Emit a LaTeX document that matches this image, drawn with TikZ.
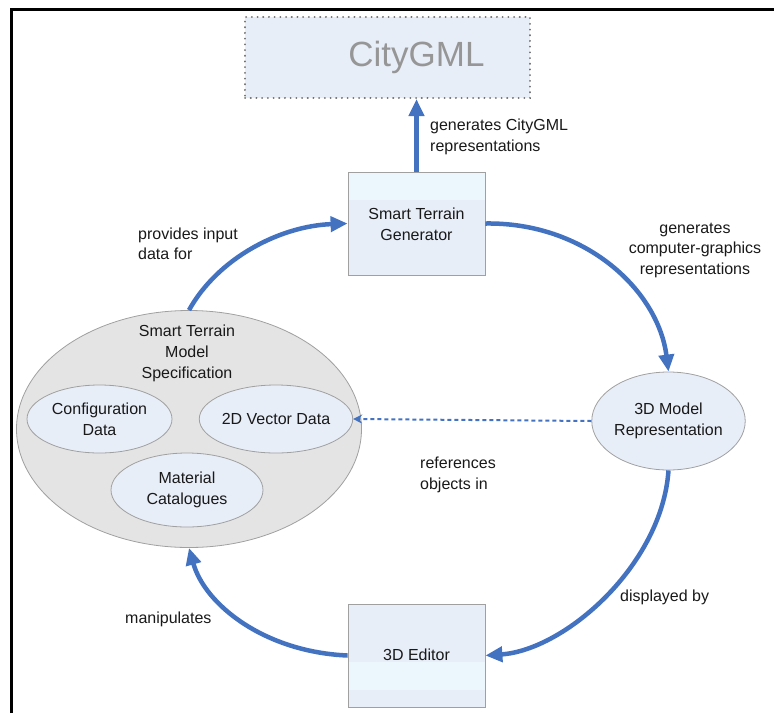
\documentclass[tikz,border=0pt]{standalone}
\usepackage{fontspec}
\setmainfont{Liberation Sans}
\usetikzlibrary{arrows.meta,shapes.geometric}
\definecolor{arrowblue}{RGB}{66,114,192}
\definecolor{boxfill}{RGB}{232,238,248}
\definecolor{bandfill}{RGB}{236,247,253}
\definecolor{bordergray}{RGB}{160,160,160}
\definecolor{bigfill}{RGB}{228,228,228}
\definecolor{citygray}{RGB}{150,150,150}
\definecolor{dotgray}{RGB}{110,110,110}
\tikzset{
  txt/.style={font=\fontsize{16}{21}\selectfont, align=center, text=black!90},
  lbl/.style={font=\fontsize{16}{20.5}\selectfont, text=black!90, inner sep=0pt},
  flow/.style={draw=arrowblue, line width=4.5pt, -{Triangle[length=17pt,width=15pt]}},
  refline/.style={draw=arrowblue, line width=2pt, dash pattern=on 4pt off 3pt, -{Stealth[length=9pt,width=9pt]}},
  boxnode/.style={draw=bordergray, line width=0.8pt, fill=boxfill, minimum width=137pt, minimum height=103pt, inner sep=0pt, txt},
  ellnode/.style={ellipse, draw=bordergray, line width=0.8pt, fill=boxfill, inner sep=0pt, txt},
}
\begin{document}
\begin{tikzpicture}[x=1pt,y=-1pt]
\useasboundingbox (0,0) rectangle (774,713);
% frame
\draw[line width=3pt] (11,713) -- (11,9.5) -- (774,9.5);

% CityGML
\node[draw=dotgray, line width=2pt, dash pattern=on 0.1pt off 5.6pt, line cap=round,
      fill=boxfill, minimum width=285pt, minimum height=81pt, inner sep=0pt] (city) at (387.5,57.5) {};
\node[font=\fontsize{35}{40}\selectfont, text=citygray, inner sep=0pt] (citytxt) at (416.5,57) {CityGML};

% Smart Terrain Generator
\node[boxnode, path picture={\fill[bandfill] (path picture bounding box.north west) rectangle ([yshift=-28pt]path picture bounding box.north east);}]
  (stg) at (416.5,223.5) {};
\node[txt] (stgtxt) at (416.5,224) {Smart Terrain\\Generator};

% 3D Editor
\node[boxnode, path picture={\fill[bandfill] ([yshift=-58pt]path picture bounding box.north west) rectangle ([yshift=-86pt]path picture bounding box.north east);}]
  (editor) at (416.5,655.5) {};
\node[txt] (edtxt) at (416.5,655) {3D Editor};

% 3D Model Representation
\node[ellnode, minimum width=144pt, minimum height=98pt] (model) at (668.5,421) {3D Model\\Representation};

% Smart Terrain Model Specification
\node[ellnode, fill=bigfill, minimum width=345pt, minimum height=237pt] (spec) at (189,429) {};
\node[txt] (spectxt) at (187,353) {Smart Terrain\\Model\\Specification};
\node[ellnode, minimum width=145pt, minimum height=68pt] (conf) at (99.5,419) {Configuration\\Data};
\node[ellnode, minimum width=146pt, minimum height=68pt] (vec) at (276,419) {2D Vector Data};
\node[ellnode, minimum width=152pt, minimum height=74pt] (mat) at (187,490) {Material\\Catalogues};

% connectors
\draw[flow] (stg.north) -- (stg.north |- city.south);
\draw[flow] (spec.north) .. controls (218,258) and (280,226) .. (stg.west);
\draw[flow] (stg.east) .. controls (585,222) and (658,290) .. (model.north);
\draw[flow] (model.south) .. controls (662,565) and (565,650) .. (editor.east);
\draw[flow] (editor.west) .. controls (265,652) and (205,605) .. (spec.south);
\draw[refline] (model.west) -- (vec.east);

% labels
\node[lbl, align=left, anchor=west] (l1) at (430,137) {generates CityGML\\representations};
\node[lbl, align=left, anchor=west] (l2) at (138,244) {provides input\\data for};
\node[lbl, align=center] (l3) at (695,250) {generates\\computer-graphics\\representations};
\node[lbl, align=left, anchor=west] (l4) at (420,475) {references\\objects in};
\node[lbl, anchor=west] (l5) at (620,597) {displayed by};
\node[lbl, anchor=west] (l6) at (125,619) {manipulates};
\end{tikzpicture}
\end{document}
